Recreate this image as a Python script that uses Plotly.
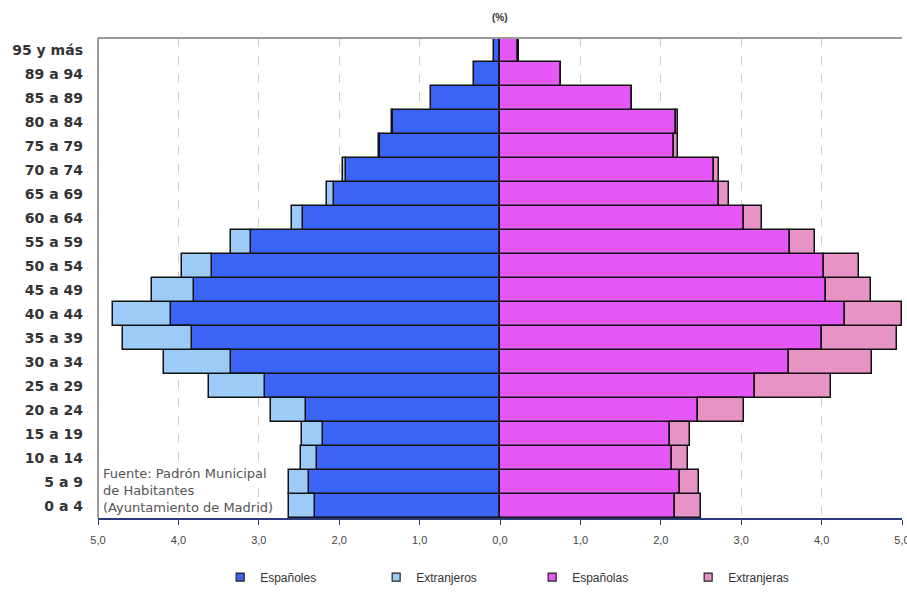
import plotly.graph_objects as go

# Grupos de edad (de menor a mayor, de abajo hacia arriba)
grupos = ["0 a 4", "5 a 9", "10 a 14", "15 a 19", "20 a 24", "25 a 29", "30 a 34",
          "35 a 39", "40 a 44", "45 a 49", "50 a 54", "55 a 59", "60 a 64",
          "65 a 69", "70 a 74", "75 a 79", "80 a 84", "85 a 89", "89 a 94", "95 y más"]

# Porcentaje sobre la población total
espanoles = [2.30, 2.37, 2.27, 2.20, 2.41, 2.92, 3.35, 3.83, 4.09, 3.80, 3.58, 3.10,
             2.45, 2.07, 1.91, 1.49, 1.33, 0.86, 0.32, 0.08]
extranjeros = [0.33, 0.25, 0.20, 0.26, 0.44, 0.70, 0.83, 0.86, 0.72, 0.53, 0.37, 0.24,
               0.14, 0.08, 0.04, 0.01, 0.01, 0.00, 0.00, 0.00]
espanolas = [2.18, 2.24, 2.14, 2.11, 2.46, 3.17, 3.59, 4.01, 4.29, 4.05, 4.03, 3.61,
             3.04, 2.72, 2.66, 2.17, 2.19, 1.64, 0.76, 0.23]
extranjeras = [0.32, 0.24, 0.20, 0.25, 0.58, 0.95, 1.04, 0.93, 0.71, 0.56, 0.43, 0.31,
               0.22, 0.13, 0.07, 0.05, 0.03, 0.00, 0.00, 0.01]

ticks = [-5, -4, -3, -2, -1, 0, 1, 2, 3, 4, 5]
tick_text = ["5,0", "4,0", "3,0", "2,0", "1,0", "0,0", "1,0", "2,0", "3,0", "4,0", "5,0"]

series = [
    ("Españoles", [-v for v in espanoles], "#3c64f4"),
    ("Extranjeros", [-v for v in extranjeros], "#9ccbf7"),
    ("Españolas", espanolas, "#e657f7"),
    ("Extranjeras", extranjeras, "#e893c6"),
]

borde = dict(color="#111111", width=1.5)

fig = go.Figure()
for nombre, valores, color in series:
    fig.add_trace(go.Bar(y=grupos, x=valores, orientation="h", name=nombre,
                         legendgroup=nombre, showlegend=False,
                         marker=dict(color=color, line=borde)))
    # small square key for the legend
    fig.add_trace(go.Scatter(x=[None], y=[None], mode="markers", name=nombre,
                             legendgroup=nombre, showlegend=True,
                             marker=dict(symbol="square", size=8, color=color,
                                         line=dict(color="#222222", width=1.2))))

font_narrow = "Liberation Sans Narrow, Liberation Sans, Arial"

fig.update_layout(
    width=907, height=596,
    margin=dict(l=98, r=5, t=38, b=69),
    barmode="relative", bargap=0,
    plot_bgcolor="white", paper_bgcolor="white",
    showlegend=True,
    legend=dict(orientation="h", x=0.54, xanchor="center", y=-0.123, yanchor="middle",
                font=dict(family=font_narrow, size=12, color="#333333"),
                entrywidth=111, traceorder="normal"),
    xaxis=dict(range=[-5, 5], tickvals=ticks, ticktext=tick_text,
               showgrid=True, gridcolor="#cfcfcf", griddash="dash", gridwidth=1,
               zeroline=False, showline=True, linecolor="#2a3a7a", linewidth=2,
               ticks="outside", ticklen=5, tickcolor="#2a3a7a",
               ticklabelstandoff=6, ticklabeloverflow="allow", automargin=False,
               tickfont=dict(family=font_narrow, size=11, color="#444444")),
    yaxis=dict(categoryorder="array", categoryarray=grupos, showgrid=False,
               zeroline=False, ticks="", ticklabelstandoff=14, automargin=False,
               tickfont=dict(family="DejaVu Sans", size=14, color="#333333", weight="bold")),
    shapes=[
        dict(type="line", xref="paper", yref="paper", x0=0, x1=1, y0=1, y1=1,
             line=dict(color="#999999", width=2)),
        dict(type="line", xref="paper", yref="paper", x0=0, x1=0, y0=0, y1=1,
             line=dict(color="#999999", width=2)),
    ],
    annotations=[
        dict(text="<b>(%)</b>", xref="paper", yref="paper", x=0.5, y=1.058,
             showarrow=False, font=dict(family="Liberation Sans, Arial", size=10, color="#333333")),
        dict(text="Fuente: Padrón Municipal<br>de Habitantes<br>(Ayuntamiento de Madrid)",
             xref="paper", yref="paper", x=0.004, y=0.003, xanchor="left", yanchor="bottom",
             align="left", showarrow=False,
             font=dict(family="DejaVu Sans", size=13, color="#555555")),
    ],
)

fig.write_html("out.html")
